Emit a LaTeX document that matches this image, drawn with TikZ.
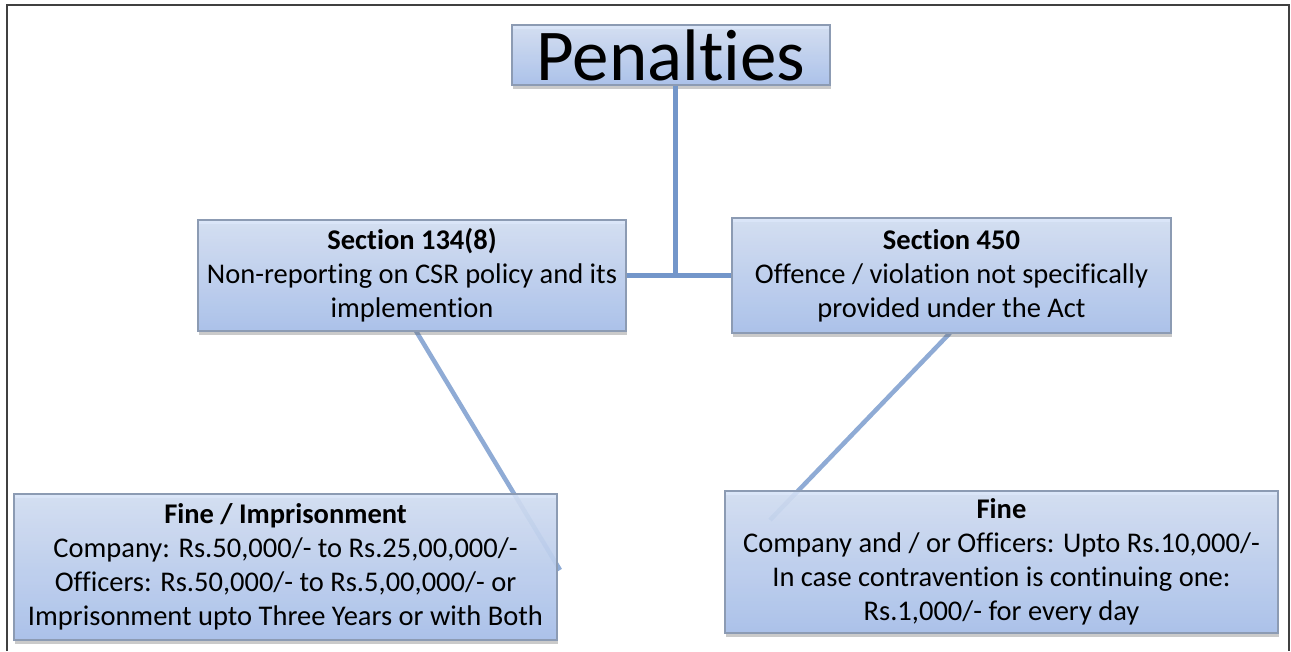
\documentclass[tikz,border=0pt]{standalone}
\usepackage{fontspec}
\setmainfont[Ligatures=NoCommon]{Carlito}
\usetikzlibrary{shadows}
\definecolor{linkblue}{HTML}{7396CA}
\definecolor{boxtop}{HTML}{D6E2F7}
\definecolor{boxbot}{HTML}{A8C1EE}
\definecolor{boxline}{HTML}{8C9BB3}
\tikzset{
  pbox/.style={draw=boxline, line width=1.2pt, top color=boxtop, bottom color=boxbot,
    fill opacity=0.88, text opacity=1, align=center, inner sep=0pt,
    drop shadow={shadow xshift=1pt, shadow yshift=-4pt, opacity=0.35, fill=black!60},
    font=\fontsize{28.5}{34}\selectfont},
  link/.style={draw=linkblue, line width=5pt},
}
\begin{document}
\begin{tikzpicture}[x=1pt,y=-1pt]
\useasboundingbox (0,0) rectangle (1291,651);
\draw[black!75, line width=2pt] (7,651) -- (7,5) -- (1289,5) -- (1289,651);
% diagonal connectors (behind boxes)
\coordinate (e1) at (560,570);
\coordinate (e2) at (770,520);
\coordinate (s1) at (416,331);
\coordinate (s2) at (950,333);
\draw[link, draw opacity=0.8, line width=4.5pt] (s1) -- (e1);
\draw[link, draw opacity=0.8, line width=4.5pt] (s2) -- (e2);
% boxes
\node[pbox, minimum width=318pt, minimum height=60pt, font=\fontsize{73}{75}\selectfont] (pen) at (671,55) {Penalties};
\node[pbox, minimum width=428pt, minimum height=111pt] (s134) at (412,275.5)
  {\textbf{Section 134(8)}\\Non-reporting on CSR policy and its\\implemention};
\node[pbox, minimum width=439pt, minimum height=115pt] (s450) at (951.5,275.5)
  {\textbf{Section 450}\\Offence / violation not specifically\\provided under the Act};
\node[pbox, minimum width=543pt, minimum height=146pt] (f1) at (285.5,567)
  {\textbf{Fine / Imprisonment}\\Company: Rs.50,000/- to Rs.25,00,000/-\\Officers: Rs.50,000/- to Rs.5,00,000/- or\\Imprisonment upto Three Years or with Both};
\node[pbox, minimum width=553pt, minimum height=142pt] (f2) at (1001.5,562)
  {\textbf{Fine}\\Company and / or Officers: Upto Rs.10,000/-\\In case contravention is continuing one:\\Rs.1,000/- for every day};
% tree connectors
\coordinate (j) at (675,276);
\draw[link] (j |- pen.south) -- (j);
\draw[link] (s134.east) -- (s450.west);
\end{tikzpicture}
\end{document}
